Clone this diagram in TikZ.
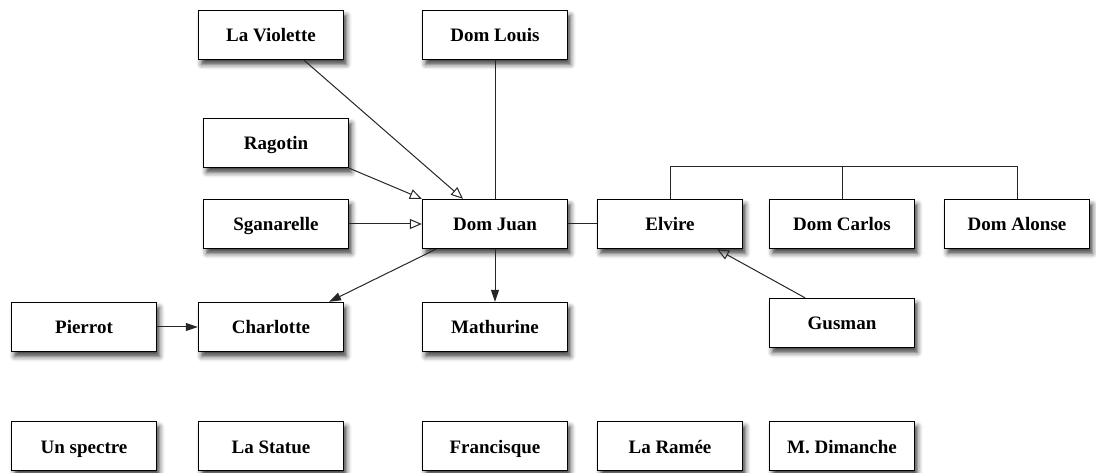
\documentclass[tikz,border=0pt]{standalone}
\usepackage{fontspec}
\setmainfont{Liberation Serif}
\usetikzlibrary{arrows.meta,shadows.blur}
\begin{document}
\begin{tikzpicture}[x=1pt,y=-1pt,
  person/.style={draw=black, line width=1.4pt, fill=white, minimum width=145pt, minimum height=49pt,
    inner sep=0pt, text height=15pt, text depth=1pt, font=\fontsize{19}{22}\selectfont\bfseries,
    blur shadow={shadow xshift=3pt, shadow yshift=-5pt, shadow blur radius=5pt, shadow opacity=75}},
  link/.style={draw=black!85, line width=1pt},
  openarrow/.style={link, -{Triangle[open, length=12pt, width=10pt, line width=1pt]}},
  fillarrow/.style={link, -{Triangle[length=12pt, width=8pt]}}
]
\useasboundingbox (0,0) rectangle (1096,473);
\node[person] (LaViolette) at (271,35) {La Violette};
\node[person] (DomLouis) at (495,35) {Dom Louis};
\node[person] (Ragotin) at (276,143) {Ragotin};
\node[person] (Sganarelle) at (276,224) {Sganarelle};
\node[person] (DomJuan) at (495,224) {Dom Juan};
\node[person] (Elvire) at (670,224) {Elvire};
\node[person] (DomCarlos) at (842,224) {Dom Carlos};
\node[person] (DomAlonse) at (1017,224) {Dom Alonse};
\node[person] (Pierrot) at (84,327) {Pierrot};
\node[person] (Charlotte) at (271,327) {Charlotte};
\node[person] (Mathurine) at (495,327) {Mathurine};
\node[person] (Gusman) at (842,323) {Gusman};
\node[person] (UnSpectre) at (84,446) {Un spectre};
\node[person] (LaStatue) at (271,446) {La Statue};
\node[person] (Francisque) at (495,446) {Francisque};
\node[person] (LaRamee) at (670,446) {La Ramée};
\node[person] (MDimanche) at (842,446) {M. Dimanche};
\coordinate (barY) at (0,167);
% connectors
\draw[openarrow] ([xshift=33pt]LaViolette.south) -- ([xshift=-32pt]DomJuan.north);
\draw[openarrow] (Ragotin.south east) -- (DomJuan.north west);
\draw[openarrow] (Sganarelle.east) -- (DomJuan.west);
\draw[link] (DomLouis.south) -- (DomJuan.north);
\draw[fillarrow] (DomJuan.south) -- (Mathurine.north);
\draw[fillarrow] ([xshift=-59pt]DomJuan.south) -- ([xshift=58pt]Charlotte.north);
\draw[fillarrow] (Pierrot.east) -- (Charlotte.west);
\draw[link] (DomJuan.east) -- (Elvire.west);
\draw[openarrow] ([xshift=-37pt]Gusman.north) -- ([xshift=47pt]Elvire.south);
\draw[link] (Elvire.north) -- (Elvire.north |- barY) -- (DomAlonse.north |- barY) -- (DomAlonse.north);
\draw[link] (DomCarlos.north) -- (DomCarlos.north |- barY);
\end{tikzpicture}
\end{document}
